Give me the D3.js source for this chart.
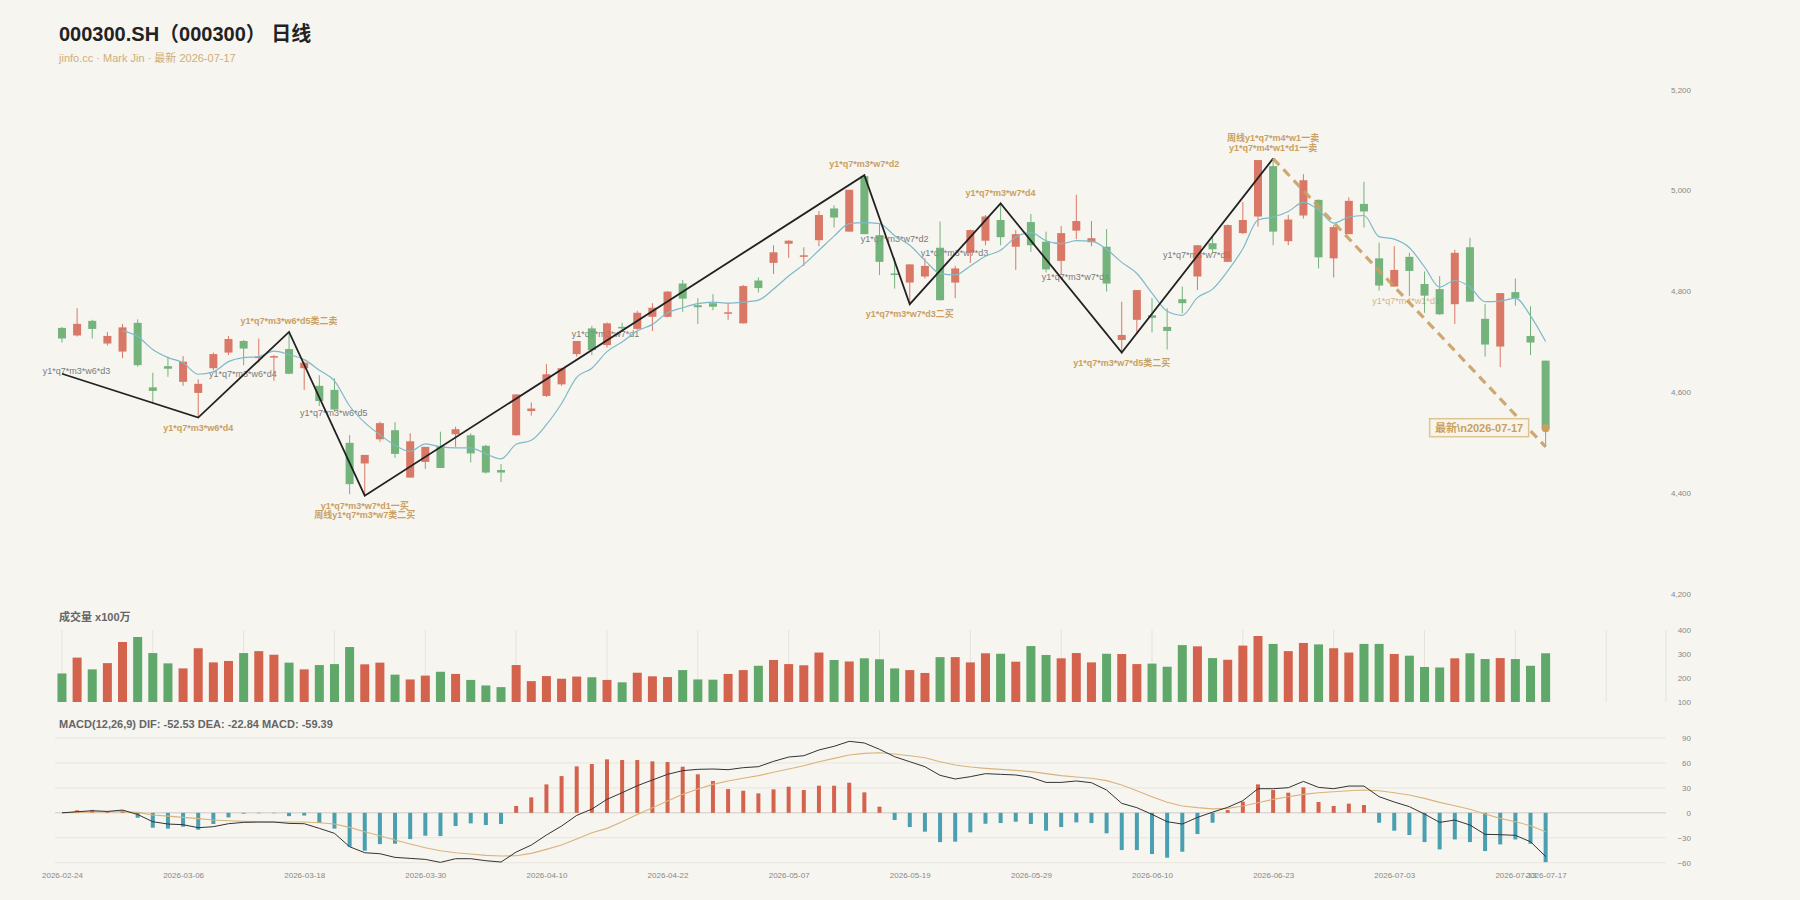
<!DOCTYPE html>
<html>
<head>
<meta charset="utf-8">
<script src="https://cdn.jsdelivr.net/npm/d3@7"></script>
<style>
  body { margin: 0; background: #f7f5f0; }
  svg { display: block; font-family: "Liberation Sans", Arial, "Noto Sans CJK SC", sans-serif; }
</style>
</head>
<body>
<svg id="chart" width="1800" height="900"></svg>
<script>
// ---- data ----
const opens = [4727,4712,4741,4696,4680,4737,4609,4651,4620,4598, 4647,4678,4701,4667,4668,4685,4647,4612,4604,4499,
  4458,4506,4524,4430,4461,4493,4516,4514,4493,4445, 4514,4562,4592,4615,4675,4726,4693,4729,4725,4749,
  4749,4815,4772,4776,4755,4736,4821,4856,4894,4869, 4901,4964,4918,5028,4911,4835,4817,4829,4886,4817,
  4876,4900,4941,4888,4937,4898,4860,4920,4897,4888, 4703,4743,4752,4729,4784,4829,4895,4858,4915,4948,
  5048,4899,4950,4981,4865,4913,4973,4865,4809,4868, 4814,4804,4774,4887,4745,4690,4798,4711,4662];
const closes = [4706,4735,4725,4711,4728,4653,4602,4646,4660,4616, 4675,4705,4686,4670,4671,4636,4658,4582,4565,4417,
  4475,4538,4477,4502,4491,4449,4526,4478,4440,4440, 4595,4567,4635,4647,4701,4683,4736,4727,4757,4767,
  4799,4785,4768,4769,4758,4810,4806,4877,4900,4871, 4951,4946,5001,4913,4858,4832,4853,4850,4782,4845,
  4921,4948,4907,4913,4891,4843,4915,4939,4905,4815, 4713,4802,4747,4721,4776,4891,4883,4931,4941,5060,
  4918,4942,5020,4867,4927,4979,4958,4811,4842,4840, 4791,4754,4876,4779,4694,4796,4786,4698,4528];
const highs = [4729,4766,4743,4719,4735,4744,4638,4670,4671,4625, 4678,4711,4703,4706,4673,4719,4660,4633,4627,4514,
  4475,4541,4540,4518,4491,4521,4531,4518,4495,4457, 4595,4579,4655,4648,4701,4731,4738,4737,4761,4776,
  4800,4822,4786,4794,4777,4812,4827,4891,4901,4887, 4959,4970,5001,5030,4933,4866,4853,4865,4938,4850,
  4922,4951,4974,4921,4953,4918,4929,4991,4939,4923, 4779,4802,4786,4766,4809,4891,4908,4932,4977,5060,
  5063,4951,5032,4982,4931,4986,5017,4896,4889,4876, 4839,4830,4882,4906,4774,4796,4825,4770,4662];
const lows = [4698,4710,4706,4692,4667,4650,4576,4630,4612,4549, 4643,4673,4653,4658,4622,4635,4604,4572,4561,4397,
  4393,4501,4469,4430,4447,4449,4491,4460,4438,4421, 4513,4553,4590,4612,4670,4673,4688,4723,4723,4721,
  4748,4759,4735,4762,4743,4736,4797,4834,4866,4850, 4889,4926,4918,4913,4832,4805,4776,4825,4781,4786,
  4856,4891,4891,4842,4878,4837,4832,4903,4889,4799, 4676,4716,4718,4684,4756,4802,4874,4858,4913,4928,
  4891,4891,4944,4845,4827,4913,4926,4801,4809,4790, 4757,4753,4735,4779,4670,4649,4771,4673,4491];
const ma5 = [null,null,null,null,4721,4710,4684,4668,4658,4635, 4640,4660,4668,4670,4681,4674,4664,4643,4622,4572,
  4539,4515,4494,4482,4497,4491,4489,4489,4477,4467, 4496,4504,4535,4577,4629,4647,4680,4699,4721,4734,
  4757,4767,4775,4778,4776,4778,4782,4804,4830,4853, 4881,4909,4934,4936,4934,4910,4891,4861,4835,4832,
  4850,4869,4881,4907,4916,4900,4894,4900,4899,4883, 4857,4835,4796,4760,4752,4787,4804,4840,4884,4941,
  4947,4958,4976,4961,4935,4947,4950,4908,4903,4886, 4848,4808,4821,4808,4779,4780,4786,4751,4700];
const volumes = [219,285,236,262,350,371,304,261,240,324, 265,271,304,312,297,264,236,254,258,329,
  257,264,214,194,210,226,217,192,169,162, 254,187,208,197,206,203,192,182,222,207,
  204,233,194,193,217,233,251,275,258,253, 306,275,269,282,278,240,233,221,287,287,
  265,303,301,268,333,296,282,304,265,301, 300,258,260,247,337,332,283,276,335,375,
  342,312,346,340,324,306,342,342,300,293, 246,244,282,303,279,283,279,251,303];
const macdBar = [0,3,3.5,1.5,3,-5.9,-17.9,-19,-16.7,-20.3, -13.5,-5.5,-1,-0.5,-0.5,-4,-3.3,-12,-19,-40.8,
  -45.6,-37.6,-37.2,-31.6,-27.5,-28,-15.9,-12.7,-14.7,-13.5, 8.2,18.6,34.2,44.2,55.9,58.7,64.3,63.5,63.5,61.9,
  61.1,55.5,46.3,38.3,28.6,26.6,23.4,28.2,31.4,27.4, 32.6,32.6,36.2,24.6,7.4,-8.7,-17.1,-22.7,-35.2,-34.7,
  -23.5,-13.1,-12.3,-10.7,-13.5,-21.5,-17.1,-11.5,-12.3,-24.7, -44.8,-44.8,-49.6,-54,-46.8,-25.5,-11.9,3.3,13.4,34.2,
  27.4,24.2,30.6,13,8.2,11,9.4,-11.9,-21.5,-26.7, -35.2,-44,-32,-35.2,-46,-38,-32,-37.2,-59.39];
const dif = [0,1.3,2.5,1.7,3.3,-2,-10.7,-13.5,-14.3,-17.9, -16.7,-13.1,-11.5,-11.1,-11.1,-12.7,-13.1,-18.7,-24.7,-40.8,
  -48,-49.2,-53.6,-54.8,-56,-59.6,-55.2,-55.2,-57.6,-59.2, -47.2,-38.8,-26.7,-15.9,-3.1,4.5,16.2,24.2,32.6,39.5,
  46.3,50.7,52.3,52.7,51.9,54.3,55.5,61.9,67.1,68.7, 75.6,80,86,84,76.4,67.5,61.5,55.5,45.1,40.7,
  43.5,47.1,46.3,45.5,42.7,36.6,36.6,38.3,36.2,27.4, 11.4,6.2,-1.9,-10.7,-13.5,-5.5,0.8,6.6,14.6,29,
  29,30.2,37.8,30.6,29,32.2,32.2,19.4,13,7.4, -1.5,-11.5,-8.7,-14.7,-25.9,-26.3,-27.1,-34.8,-52.53];
const dea = [0,0.5,1,1.2,1.3,0.5,-2.7,-4,-5.5,-7, -8.7,-9.5,-10.3,-10.7,-11.1,-11.1,-11.1,-12,-13.5,-17.5,
  -22.7,-27.5,-32.8,-37.6,-42,-45.6,-48,-49.6,-51.2,-52, -51.6,-48.8,-44,-38.8,-31.6,-24,-18.7,-10.7,-1.9,6.2,
  14.2,22.2,28.6,34.2,38.3,41.5,44.7,48.7,52.7,56.7, 61.5,65.5,69.5,71.5,72.3,70.7,68.7,66.3,61.5,57.5,
  55.1,53.5,52.3,51.1,49.5,47.1,44.7,43.1,41.5,38.7, 33.4,26.6,19.4,12.6,8.2,6.2,4.8,5.3,8.2,12.2,
  16.2,19.4,22.2,24.2,25.4,26.6,27.4,26.6,24.2,21.4, 17.4,12.6,8.6,4.2,-1.5,-6.7,-10.7,-15.5,-22.84];

const tickIdx = [0,8,16,24,32,40,48,56,64,72,80,88,96,98];
const tickDates = ['2026-02-24','2026-03-06','2026-03-18','2026-03-30','2026-04-10','2026-04-22','2026-05-07',
  '2026-05-19','2026-05-29','2026-06-10','2026-06-23','2026-07-03','2026-07-13','2026-07-17'];
const priceTicks = [4200,4400,4600,4800,5000,5200];
const volTicks = [100,200,300,400];
const macdTicks = [-60,-30,0,30,60,90];

// zigzag pivots (bar index, price)
const pivotIdx = [0,9,15,20,53,56,62,70,80];
const pivotVal = [4636,4549,4719,4394,5030,4774,4974,4678,5063];
const trendIdx = [80,98];
const trendVal = [5063,4491];

// signal labels at pivots: which pivot, above/below, text lines
const signalPivot = [1,2,3,4,5,6,7,8];
const signalSide = ['below','above','below','above','below','above','below','above'];
const signalText = [
  ['y1*q7*m3*w6*d4'],
  ['y1*q7*m3*w6*d5类二卖'],
  ['y1*q7*m3*w7*d1一买','周线y1*q7*m3*w7类二买'],
  ['y1*q7*m3*w7*d2'],
  ['y1*q7*m3*w7*d3二买'],
  ['y1*q7*m3*w7*d4'],
  ['y1*q7*m3*w7*d5类二买'],
  ['周线y1*q7*m4*w1一卖','y1*q7*m4*w1*d1一卖']
];
// grey stroke labels (bar index, price)
const strokeLabelText = ['y1*q7*m3*w6*d3','y1*q7*m3*w6*d4','y1*q7*m3*w6*d5','y1*q7*m3*w7*d1',
  'y1*q7*m3*w7*d2','y1*q7*m3*w7*d3','y1*q7*m3*w7*d4','y1*q7*m3*w7*d5'];
const strokeLabelIdx = [0.96,11.95,17.95,35.9,55,58.95,66.95,74.95];
const strokeLabelVal = [4642,4636,4559,4715,4904,4875,4828,4872];
const pendingLabel = {text: 'y1*q7*m4*w1*d1*', idx: 88.9, val: 4780};

// ---- colors ----
const UP = '#d4634e', DOWN = '#5fa86a', GOLD = '#c9a062', TEAL = '#7dbac9', HIST_NEG = '#4a9fb0';

const svg = d3.select('#chart');
svg.append('rect').attr('width', 1800).attr('height', 900).attr('fill', '#f7f5f0');

const n = closes.length;
const x = d3.scaleLinear().domain([-0.46, 105.95]).range([55, 1666]);
const yP = d3.scaleLinear().domain([4200, 5200]).range([593.5, 89.5]);
const yV = d3.scaleLinear().domain([100, 400]).range([702, 630]);
const yM = d3.scaleLinear().domain([-60, 90]).range([862.7, 738]);
const isUp = (i) => closes[i] >= opens[i];
const idx = d3.range(n);

// ---- titles ----
svg.append('text').attr('x', 59).attr('y', 41)
  .attr('font-size', 20).attr('font-weight', 'bold').attr('fill', '#222')
  .text('000300.SH（000300） 日线');
svg.append('text').attr('x', 59).attr('y', 62)
  .attr('font-size', 11).attr('fill', '#cfae78')
  .text('jinfo.cc · Mark Jin · 最新 2026-07-17');

// ---- right axes ----
let rightAxis = function(scale, ticks, fmt) {
  let g = svg.append('g').attr('transform', 'translate(1691,0)')
    .call(d3.axisRight(scale).tickValues(ticks).tickFormat(fmt).tickSize(0).tickPadding(0));
  g.select('.domain').remove();
  g.selectAll('text').attr('text-anchor', 'end').attr('fill', '#888')
    .attr('font-size', 8).attr('font-family', '"Liberation Sans", Arial, sans-serif');
};
rightAxis(yP, priceTicks, d3.format(','));
rightAxis(yV, volTicks, d3.format('d'));
rightAxis(yM, macdTicks, d3.format('d'));

// ---- volume panel ----
svg.append('text').attr('x', 59).attr('y', 621)
  .attr('font-size', 11).attr('font-weight', 'bold').attr('fill', '#666')
  .text('成交量 x100万');

svg.append('g').selectAll('line')
  .data(d3.range(0, 103, 6))
  .enter().append('line')
  .attr('x1', (d) => x(d)).attr('x2', (d) => x(d))
  .attr('y1', yV(400)).attr('y2', yV(100))
  .attr('stroke', '#e6e3dc').attr('stroke-width', 1);
svg.append('line').attr('x1', x.range()[1]).attr('x2', x.range()[1])
  .attr('y1', yV(400)).attr('y2', yV(100))
  .attr('stroke', '#e6e3dc');

svg.append('g').selectAll('rect')
  .data(idx)
  .enter().append('rect')
  .attr('x', (i) => x(i) - 4.5)
  .attr('width', 9)
  .attr('y', (i) => yV(volumes[i]))
  .attr('height', (i) => yV(100) - yV(volumes[i]))
  .attr('fill', (i) => isUp(i) ? UP : DOWN);

// ---- MACD panel ----
svg.append('text').attr('x', 59).attr('y', 728)
  .attr('font-size', 11).attr('font-weight', 'bold').attr('fill', '#666')
  .text(`MACD(12,26,9) DIF: ${dif[n-1].toFixed(2)} DEA: ${dea[n-1].toFixed(2)} MACD: ${macdBar[n-1].toFixed(2)}`);

svg.append('g').selectAll('line')
  .data(macdTicks)
  .enter().append('line')
  .attr('x1', x.range()[0]).attr('x2', x.range()[1])
  .attr('y1', (d) => yM(d)).attr('y2', (d) => yM(d))
  .attr('stroke', (d) => d === 0 ? '#cfcbc3' : '#e8e5de').attr('stroke-width', 1);

svg.append('g').selectAll('rect')
  .data(idx)
  .enter().append('rect')
  .attr('x', (i) => x(i) - 2)
  .attr('width', 4)
  .attr('y', (i) => yM(Math.max(0, macdBar[i])))
  .attr('height', (i) => Math.abs(yM(macdBar[i]) - yM(0)))
  .attr('fill', (i) => macdBar[i] >= 0 ? UP : HIST_NEG);

let macdLine = (arr) => d3.line().x((i) => x(i)).y((i) => yM(arr[i]));
svg.append('path').datum(idx).attr('fill', 'none').attr('stroke', '#d8b47c').attr('stroke-width', 1.1)
  .attr('d', macdLine(dea));
svg.append('path').datum(idx).attr('fill', 'none').attr('stroke', '#333').attr('stroke-width', 1)
  .attr('d', macdLine(dif));

let xg = svg.append('g').attr('transform', 'translate(0,869)')
  .call(d3.axisBottom(x).tickValues(tickIdx).tickFormat((d, k) => tickDates[k]).tickSize(0).tickPadding(3));
xg.select('.domain').remove();
xg.selectAll('text').attr('fill', '#888').attr('font-size', 8)
  .attr('font-family', '"Liberation Sans", Arial, sans-serif');

// ---- main candlestick panel ----
let main = svg.append('g');

// grey stroke labels sit under the candles
main.append('g').selectAll('text')
  .data(strokeLabelText)
  .enter().append('text')
  .attr('x', (d, k) => x(strokeLabelIdx[k]))
  .attr('y', (d, k) => yP(strokeLabelVal[k]))
  .attr('dy', '0.35em')
  .attr('text-anchor', 'middle')
  .attr('font-size', 9).attr('fill', '#7a7a7a')
  .text((d) => d);
main.append('text')
  .attr('x', x(pendingLabel.idx)).attr('y', yP(pendingLabel.val)).attr('dy', '0.35em')
  .attr('text-anchor', 'middle').attr('font-size', 9).attr('fill', GOLD).attr('opacity', 0.75)
  .text(pendingLabel.text);

let candles = main.append('g').attr('opacity', 0.85);
candles.selectAll('line')
  .data(idx)
  .enter().append('line')
  .attr('x1', (i) => x(i)).attr('x2', (i) => x(i))
  .attr('y1', (i) => yP(highs[i])).attr('y2', (i) => yP(lows[i]))
  .attr('stroke', (i) => isUp(i) ? UP : DOWN).attr('stroke-width', 1);
candles.selectAll('rect')
  .data(idx)
  .enter().append('rect')
  .attr('x', (i) => x(i) - 4)
  .attr('width', 8)
  .attr('y', (i) => yP(Math.max(opens[i], closes[i])))
  .attr('height', (i) => Math.max(1.5, Math.abs(yP(opens[i]) - yP(closes[i]))))
  .attr('fill', (i) => isUp(i) ? UP : DOWN);

// MA5
main.append('path').datum(idx.filter((i) => ma5[i] !== null))
  .attr('fill', 'none').attr('stroke', TEAL).attr('stroke-width', 1.2)
  .attr('d', d3.line().curve(d3.curveMonotoneX).x((i) => x(i)).y((i) => yP(ma5[i])));

// zigzag strokes
main.append('path').datum(d3.range(pivotIdx.length))
  .attr('fill', 'none').attr('stroke', '#222').attr('stroke-width', 1.8)
  .attr('d', d3.line().x((k) => x(pivotIdx[k])).y((k) => yP(pivotVal[k])));

// pending down stroke
main.append('path').datum([0, 1])
  .attr('fill', 'none').attr('stroke', GOLD).attr('stroke-width', 3.2)
  .attr('stroke-dasharray', '9,6').attr('opacity', 0.9)
  .attr('d', d3.line().x((k) => x(trendIdx[k])).y((k) => yP(trendVal[k])));

// signal labels
signalPivot.forEach(function(p, k) {
  const px = x(pivotIdx[p]), py = yP(pivotVal[p]);
  const lines = signalText[k];
  lines.forEach(function(t, j) {
    let cy = signalSide[k] === 'below'
      ? py + 10 + j * 9.5
      : py - 11 - (lines.length - 1 - j) * 9.5;
    main.append('text')
      .attr('x', px).attr('y', cy).attr('dy', '0.35em')
      .attr('text-anchor', 'middle')
      .attr('font-size', 9).attr('font-weight', 'bold').attr('fill', GOLD)
      .text(t);
  });
});

// latest marker
const li = n - 1;
const lx = x(li), ly = yP(closes[li]);
main.append('circle').attr('cx', lx).attr('cy', ly).attr('r', 4).attr('fill', GOLD);
main.append('rect')
  .attr('x', lx - 116).attr('y', ly - 9.5).attr('width', 99).attr('height', 18)
  .attr('fill', '#f8f4ea').attr('stroke', '#dcc495').attr('stroke-width', 1.5);
main.append('text')
  .attr('x', lx - 66.5).attr('y', ly).attr('dy', '0.35em')
  .attr('text-anchor', 'middle').attr('font-size', 11).attr('font-weight', 'bold').attr('fill', GOLD)
  .text('最新\\n2026-07-17');
</script>
</body>
</html>
